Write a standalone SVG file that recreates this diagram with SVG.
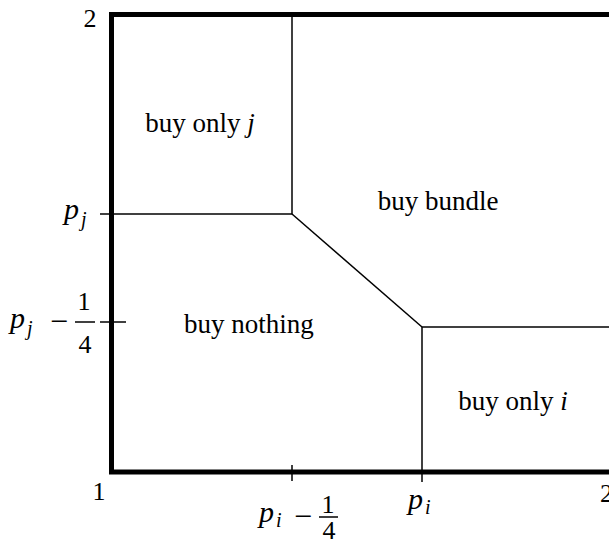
<svg xmlns="http://www.w3.org/2000/svg" width="609" height="544" viewBox="0 0 609 544">
<style>
.thin{stroke:#000;stroke-width:1.5;fill:none}
.frame{stroke:#000;stroke-width:5;fill:none}
.lbl{font-family:"Liberation Serif","Times New Roman",serif;font-size:27px;fill:#000}
.num{font-family:"Liberation Serif","Times New Roman",serif;font-size:26px;fill:#000}
.min{font-family:"Liberation Serif","Times New Roman",serif;font-size:32px;fill:#000}
.var{font-family:"Liberation Serif","Times New Roman",serif;font-size:30px;font-style:italic;fill:#000}
.sub{font-family:"Liberation Serif","Times New Roman",serif;font-size:20px;font-style:italic;fill:#000}
</style>
<rect width="609" height="544" fill="#fff"/>
<g id="frame">
<rect class="frame" x="111.5" y="14.5" width="500" height="457.5"/>
</g>
<g id="boundaries">
<line class="thin" x1="292" y1="14.5" x2="292" y2="214"/>
<line class="thin" x1="100" y1="214" x2="292" y2="214"/>
<line class="thin" x1="292" y1="214" x2="422" y2="327"/>
<line class="thin" x1="422" y1="327" x2="609" y2="327"/>
<line class="thin" x1="422" y1="327" x2="422" y2="482"/>
<line class="thin" x1="100" y1="322" x2="126" y2="322"/>
<line class="thin" x1="292" y1="465" x2="292" y2="481"/>
</g>
<g id="region-buy-only-j"><text class="lbl" x="200" y="132" text-anchor="middle">buy only <tspan font-style="italic">j</tspan></text></g>
<g id="region-buy-bundle"><text class="lbl" x="438" y="210" text-anchor="middle">buy bundle</text></g>
<g id="region-buy-nothing"><text class="lbl" x="249" y="333" text-anchor="middle">buy nothing</text></g>
<g id="region-buy-only-i"><text class="lbl" x="513" y="410" text-anchor="middle">buy only <tspan font-style="italic">i</tspan></text></g>
<g id="axis-labels">
<text class="num" x="90" y="27" text-anchor="middle">2</text>
<text class="num" x="99" y="500" text-anchor="middle">1</text>
<text class="num" x="600" y="502">2</text>
<text class="var" x="64" y="219">p</text><text class="sub" x="81" y="226">j</text>
<text class="var" x="10" y="328">p</text><text class="sub" x="27" y="335">j</text>
<text class="min" x="59" y="332" text-anchor="middle">−</text>
<text class="num" x="84" y="310" text-anchor="middle">1</text>
<line class="thin" x1="75" y1="322" x2="95" y2="322"/>
<text class="num" x="85" y="353" text-anchor="middle">4</text>
<text class="var" x="259" y="522">p</text><text class="sub" x="276" y="527">i</text>
<text class="min" x="303" y="527" text-anchor="middle">−</text>
<text class="num" x="328" y="513" text-anchor="middle">1</text>
<line class="thin" x1="319" y1="517" x2="338" y2="517"/>
<text class="num" x="329" y="539" text-anchor="middle" font-size="21">4</text>
<text class="var" x="408" y="509">p</text><text class="sub" x="425" y="514">i</text>
</g>
</svg>
